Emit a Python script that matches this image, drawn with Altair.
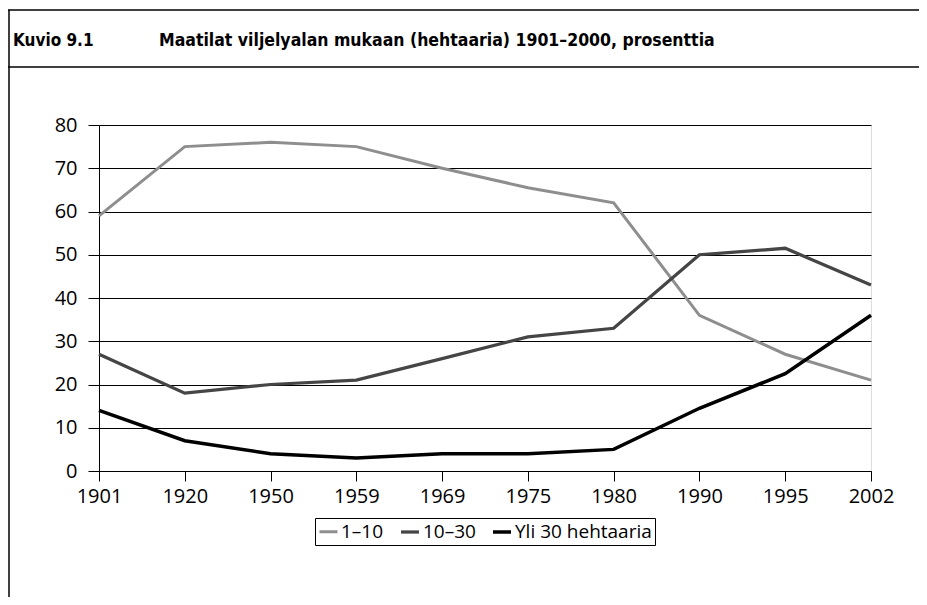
import altair as alt
import pandas as pd

years = ["1901", "1920", "1950", "1959", "1969", "1975", "1980", "1990", "1995", "2002"]
series_names = ["1–10", "10–30", "Yli 30 hehtaaria"]
s_1_10 = [59, 75, 76, 75, 70, 65.5, 62, 36, 27, 21]
s_10_30 = [27, 18, 20, 21, 26, 31, 33, 50, 51.5, 43]
s_yli30 = [14, 7, 4, 3, 4, 4, 5, 14.5, 22.5, 36]
series_values = [s_1_10, s_10_30, s_yli30]
colors = ["#8e8e8e", "#454545", "#000000"]
widths = [3, 3.5, 4.5]
fig_label = "Kuvio 9.1"
fig_title = "Maatilat viljelyalan mukaan (hehtaaria) 1901–2000, prosenttia"

rows = []
for name, vals in zip(series_names, series_values):
    for y, v in zip(years, vals):
        rows.append({"vuosi": y, "sarja": name, "arvo": v})
df = pd.DataFrame(rows)

W, H = 772, 346
PL, PT = 91, 117
CW, CH = 911, 589

font = "Open Sans"
tfont = "DejaVu Sans Condensed, Liberation Sans Narrow, sans-serif"

lines = alt.Chart(df).mark_line(strokeJoin="miter").encode(
    x=alt.X("vuosi:O", sort=years, scale=alt.Scale(type="point", padding=0),
            axis=alt.Axis(title=None, labelAngle=0, tickSize=10, labelPadding=5,
                          domainColor="black", tickColor="black", labelFontSize=20,
                          labelFont=font, labelColor="black", grid=False)),
    y=alt.Y("arvo:Q", scale=alt.Scale(domain=[0, 80]),
            axis=alt.Axis(title=None, values=list(range(0, 81, 10)), tickSize=11,
                          labelPadding=11, domainColor="black", tickColor="black",
                          gridColor="black", gridOpacity=1, gridWidth=1,
                          labelFontSize=20, labelFont=font, labelColor="black")),
    color=alt.Color("sarja:N", sort=series_names,
                    scale=alt.Scale(domain=series_names, range=colors),
                    legend=alt.Legend(title=None, orient="none", legendX=216, legendY=393,
                                      direction="horizontal", strokeColor="black",
                                      padding=3, labelFontSize=19, labelFont=font,
                                      labelColor="black", symbolType="stroke",
                                      symbolSize=324, columnPadding=10, labelOffset=2)),
    strokeWidth=alt.StrokeWidth("sarja:N", sort=series_names,
                                scale=alt.Scale(domain=series_names, range=widths),
                                legend=alt.Legend(title=None, orient="none", legendX=216,
                                                  legendY=393, direction="horizontal")),
    order=alt.Order("vuosi:O"),
)

one = alt.Data(values=[{}])
frame_top = alt.Chart(one).mark_rule(color="black", strokeWidth=1.5).encode(
    x=alt.value(-PL), x2=alt.value(CW - PL), y=alt.value(2 - PT))
frame_mid = alt.Chart(one).mark_rule(color="black", strokeWidth=1.5).encode(
    x=alt.value(-PL), x2=alt.value(CW - PL), y=alt.value(-58))
frame_left = alt.Chart(one).mark_rule(color="black", strokeWidth=1.5).encode(
    x=alt.value(1 - PL), y=alt.value(2 - PT), y2=alt.value(CH - PT))
t1 = alt.Chart(one).mark_text(text=fig_label, align="left", baseline="alphabetic",
                              font=tfont, fontSize=17, fontWeight="bold",
                              color="black").encode(x=alt.value(13 - 99), y=alt.value(46 - 125))
t2 = alt.Chart(one).mark_text(text=fig_title, align="left", baseline="alphabetic",
                              font=tfont, fontSize=17.5, fontWeight="bold",
                              color="black").encode(x=alt.value(159 - 99), y=alt.value(46 - 125))

chart = alt.layer(lines, frame_top, frame_mid, frame_left, t1, t2).properties(
    width=W, height=H,
    autosize=alt.AutoSizeParams(type="none"),
    padding={"left": PL, "top": PT, "right": CW - PL - W, "bottom": CH - PT - H},
).configure_view(stroke="black", strokeWidth=1).configure(background="white")

chart.save("out.html", embed_options={"renderer": "svg", "actions": False})
